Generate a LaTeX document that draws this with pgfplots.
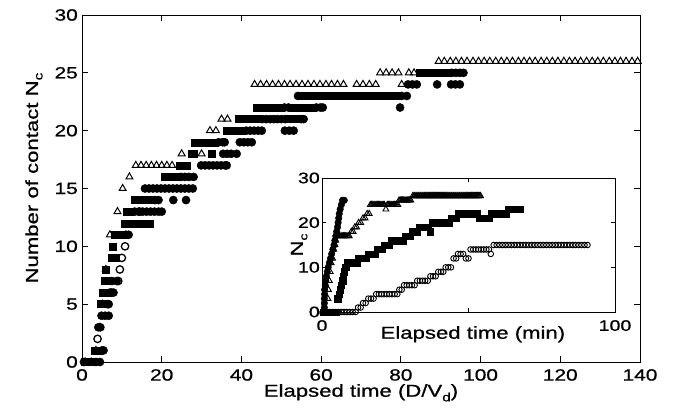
\documentclass[border=0pt]{standalone}
\usepackage{fontspec}
\setmainfont{Liberation Sans}[FakeStretch=1.28, FakeBold=0.8]
\usepackage{pgfplots}
\pgfplotsset{compat=1.18}

\newcommand\mainfs{\fontsize{16.3}{19}\selectfont}
\newcommand\labfs{\fontsize{17.3}{20}\selectfont}
\newcommand\insetfs{\fontsize{15.3}{18}\selectfont}
\newcommand\sub[2][12]{\raisebox{-0.5ex}{\fontsize{#1}{#1}\selectfont #2}}

\pgfplotsset{
  matlab/.style={
    scale only axis, clip=false,
    axis line style={line width=0.9pt},
    every tick/.style={black, line width=0.9pt},
    tick align=inside,
    /pgf/number format/assume math mode=true,
  },
  tri/.style={only marks, black, mark=triangle, mark size=#1, mark options={line width=1pt, fill=none}},
  sq/.style={only marks, black, mark=square*, mark size=#1},
  dot/.style={only marks, black, mark=*, mark size=#1},
  ring/.style={only marks, black, mark=o, mark size=#1, mark options={line width=1.3pt, fill=none}},
}

\begin{document}
\begin{tikzpicture}
\path[use as bounding box] (-82pt,-53pt) rectangle (597pt,362pt);

% main plot: contacts against dimensionless time
\begin{axis}[matlab,
  at={(0pt,0pt)}, anchor=south west,
  width=558pt, height=347pt,
  xmin=0, xmax=140, ymin=0, ymax=30,
  xtick={0,20,...,140}, ytick={0,5,...,30},
  major tick length=6pt,
  tick label style={font=\mainfs},
  xticklabel style={inner sep=0pt, yshift=-7pt},
  yticklabel style={inner sep=0pt, xshift=-4pt},
  label style={font=\labfs},
  xlabel={Elapsed time (D/V\sub{d})},
  xlabel style={at={(axis description cs:0.5,0)}, anchor=north, inner sep=0pt, yshift=-22pt},
  ylabel={Number of contact N\sub{c}},
  ylabel style={at={(axis description cs:-0.086,0.53)}, anchor=center},
]
\addplot[tri=4pt] coordinates {
(0.8,0)(2.3,0)(3.5,1)(4.5,3)(5.2,5)(6.0,8)(7.0,11)(8.9,13)(10.2,15)(11.9,16)
(13.5,17)(14.8,17)(16.1,17)(17.4,17)(18.7,17)(20.0,17)(21.3,17)(22.6,17)
(25.0,18)(30.0,18)(32.1,20)(33.6,20)(35.0,21)(36.5,21)
(43.3,24)(44.8,24)(46.3,24)(47.8,24)(49.3,24)(50.8,24)(52.2,24)(53.7,24)
(55.2,24)(56.7,24)(58.2,24)(59.7,24)(61.2,24)(62.6,24)(64.1,24)(65.6,24)
(68.9,24)(70.5,24)(72.1,24)(73.7,24)(80.2,24)
(74.8,25)(76.3,25)(77.8,25)(79.4,25)(82.0,25)(83.3,25)
(89.5,26)(90.9,26)(92.4,26)(93.8,26)(95.2,26)(96.6,26)(98.1,26)(99.5,26)
(100.9,26)(102.3,26)(103.8,26)(105.2,26)(106.6,26)(108.0,26)(109.5,26)(110.9,26)
(112.3,26)(113.7,26)(115.2,26)(116.6,26)(118.0,26)(119.4,26)(120.9,26)(122.3,26)
(123.7,26)(125.1,26)(126.6,26)(128.0,26)(129.4,26)(130.8,26)(132.3,26)(133.7,26)
(135.1,26)(136.5,26)(138.0,26)(139.4,26)
};
\addplot[sq=3.5pt] coordinates {
(0.8,0)(1.7,0)(2.6,0)(3.2,1)(4.1,1)(4.6,5)(5.5,5)(5.3,6)(6.2,6)(5.7,7)(6.6,7)
(5.9,8)(7.4,9)(8.4,9)(7.8,10)(8.3,11)(9.3,11)(10.3,11)
(10.8,12)(11.9,12)(12.9,12)(14.0,12)(15.0,12)(16.1,12)(17.1,12)
(11.2,13)(12.2,13)
(13.3,14)(14.3,14)(15.3,14)(16.3,14)(17.3,14)
(20.8,16)(21.8,16)(22.8,16)(23.8,16)
(24.6,17)(25.6,17)(26.3,17)
(27.4,18)(28.0,18)(32.5,18)
(28.3,19)(29.3,19)(30.3,19)(31.3,19)(32.3,19)(33.3,19)
(36.2,20)(37.2,20)(38.2,20)(39.2,20)(40.2,20)
(39.2,21)(40.2,21)(41.2,21)(42.2,21)(43.2,21)(44.2,21)(52.0,21)(53.0,21)(54.0,21)
(43.8,22)(44.8,22)(45.8,22)(46.8,22)(47.8,22)(48.8,22)(49.8,22)
(52.8,22)(53.8,22)(54.8,22)(55.8,22)(56.8,22)(57.8,22)
(55.2,23)(56.2,23)(57.2,23)(58.2,23)(59.2,23)(60.2,23)(61.2,23)(62.2,23)(63.2,23)
(64.2,23)(65.2,23)(66.2,23)(67.2,23)(68.2,23)(69.2,23)(70.2,23)(71.2,23)(72.2,23)
(73.2,23)(74.2,23)(75.2,23)(76.2,23)(77.2,23)(78.2,23)(79.2,23)
(84.8,25)(85.8,25)(86.8,25)(87.8,25)(88.8,25)(89.8,25)(90.8,25)(91.8,25)
};
\addplot[dot=4.1pt] coordinates {
(3.5,0)(4.5,0)(5.0,1)(5.4,1)(4.1,3)(4.6,3)(4.9,4)(5.8,4)(6.7,4)(6.4,5)(6.7,5)
(7.0,6)(7.9,6)(7.5,7)(8.7,7)(11.0,11)(11.7,11)
(13.2,13)(14.2,13)(15.2,13)(16.2,13)(17.2,13)(18.2,13)(19.2,13)(20.0,13)
(18.3,14)(19.2,14)(22.9,14)(26.1,14)
(15.8,15)(16.8,15)(17.8,15)(18.8,15)(19.8,15)(20.8,15)(21.8,15)(22.8,15)
(23.8,15)(24.8,15)(25.8,15)(26.8,15)(27.8,15)
(24.8,16)(25.8,16)(26.8,16)(28.0,16)
(29.9,17)(30.9,17)(31.9,17)(32.9,17)(33.9,17)(34.9,17)(35.9,17)(36.3,17)
(35.4,18)(36.4,18)(37.4,18)(38.8,18)
(34.3,19)(35.3,19)(35.8,19)(39.6,19)(40.6,19)(41.6,19)(42.6,19)
(41.2,20)(42.2,20)(43.2,20)(44.2,20)(45.1,20)(50.9,20)(52.0,20)(53.1,20)
(45.2,21)(46.2,21)(47.2,21)(48.1,21)(49.0,21)(50.0,21)(51.0,21)(55.0,21)(55.6,21)
(50.8,22)(51.8,22)(58.8,22)(59.8,22)(60.4,22)(79.8,22)
(54.2,23)(80.2,23)(81.5,23)
(81.8,24)(82.9,24)(84.0,24)(89.1,24)(92.6,24)(93.7,24)(94.8,24)
(92.8,25)(93.8,25)(94.8,25)(95.7,25)
};
\addplot[ring=3.7pt] coordinates {
(0.5,0)(3.9,2)(7.4,6)(9.1,7)(9.5,8)(10.0,9)(10.8,10)(14.5,13)
};
\end{axis}

% inset: contacts against time in minutes
\begin{axis}[matlab,
  at={(240pt,50pt)}, anchor=south west,
  width=293pt, height=134pt,
  axis background/.style={fill=white},
  xmin=0, xmax=100, ymin=0, ymax=30,
  xtick={0,50,100}, xticklabels={0,,100},
  ytick={0,10,20,30},
  major tick length=4pt,
  tick label style={font=\insetfs},
  xticklabel style={inner sep=0pt, yshift=-8pt},
  yticklabel style={inner sep=0pt, xshift=-2pt},
  label style={font=\labfs},
  xlabel={Elapsed time (min)},
  xlabel style={at={(axis description cs:0.515,0)}, anchor=north, inner sep=0pt, yshift=-14pt},
  ylabel={N\sub[11]{c}},
  ylabel style={at={(axis description cs:-0.078,0.5)}, anchor=center},
]
\addplot[tri=3.4pt, mark options={line width=0.9pt}] coordinates {
(0.3,0)(0.9,0)(1.5,0)(2.0,3)(2.2,5)(2.5,7)(2.8,9)(3.1,11)(3.6,12)(4.0,14)(4.4,15)(4.7,16)
(4.9,17)(5.3,17)(5.7,17)(6.1,17)(6.5,17)(6.9,17)(7.3,17)(7.7,17)(8.1,17)(8.5,17)(8.9,17)(9.3,17)
(10.0,18)(10.6,18)(11.2,19)(11.8,19)(12.5,20)(13.2,20)(14.0,21)(14.7,21)(15.4,22)(16.1,22)
(16.5,24)(16.9,24)(17.3,24)(17.7,24)(18.1,24)(18.5,24)(18.9,24)(19.3,24)(19.7,24)
(20.1,24)(20.5,24)(20.9,24)(21.3,24)(21.8,23)(22.3,24)(22.7,24)(23.1,24)(23.5,24)
(23.9,24)(24.3,24)(24.7,24)(25.1,24)(25.5,24)(25.9,24)
(26.3,25)(26.7,25)(27.1,25)(27.5,25)(27.9,25)(28.3,25)(28.7,25)(29.1,25)(29.5,25)
(29.9,25)(30.3,25)
(31.0,26)(31.4,26)(31.7,26)(32.1,26)(32.4,26)(32.8,26)(33.1,26)(33.5,26)(33.8,26)
(34.2,26)(34.5,26)(34.9,26)(35.2,26)(35.6,26)(35.9,26)(36.3,26)(36.6,26)(37.0,26)
(37.3,26)(37.7,26)(38.0,26)(38.4,26)(38.7,26)(39.1,26)(39.4,26)(39.8,26)(40.1,26)
(40.5,26)(40.8,26)(41.2,26)(41.5,26)(41.9,26)(42.2,26)(42.6,26)(42.9,26)(43.3,26)
(43.6,26)(44.0,26)(44.3,26)(44.7,26)(45.0,26)(45.4,26)(45.7,26)(46.1,26)(46.4,26)
(46.8,26)(47.1,26)(47.5,26)(47.8,26)(48.2,26)(48.5,26)(48.9,26)(49.2,26)(49.6,26)
(49.9,26)(50.3,26)(50.6,26)(51.0,26)(51.3,26)(51.7,26)(52.0,26)(52.4,26)(52.7,26)
(53.1,26)(53.4,26)(53.8,26)(54.1,26)
};
\addplot[sq=3.2pt] coordinates {
(0.5,0)(1.2,0)(1.9,0)(2.6,0)(3.3,0)(4.0,0)(4.7,0)
(5.3,3)(5.8,4)(6.2,5)(6.6,6)(7.0,7)(7.3,8)(7.6,9)(8.1,10)(8.7,11)
(9.4,11)(10.2,11)(11.0,11)(11.8,11)(12.5,12)(13.3,12)(14.1,12)(14.9,12)
(15.7,13)(16.5,13)(17.3,13)(18.1,13)(18.9,14)(19.7,14)(20.5,14)
(21.3,15)(22.1,15)(22.9,15)(23.7,16)(24.5,16)(25.3,16)(26.1,16)(26.9,16)(27.6,16)
(28.4,17)(29.2,17)(30.0,17)(30.8,18)(31.6,18)(32.3,18)
(33.1,19)(34.1,19)(35.1,19)(36.1,19)(37.0,18)
(37.8,20)(38.6,20)(39.4,20)(40.2,20)(41.0,20)(41.8,20)(42.6,20)(43.4,20)
(44.2,21)(45.0,21)(45.8,21)
(46.6,22)(47.4,22)(48.2,22)(49.0,22)(49.8,22)(50.6,22)(51.4,22)(52.2,22)(53.0,22)
(53.8,21)(55.5,21)(56.3,21)(57.1,21)
(57.9,22)(58.7,22)(59.5,22)(60.3,22)(61.1,22)(61.9,22)(62.7,22)
(63.5,23)(64.3,23)(65.1,23)(65.9,23)(66.7,23)(67.5,23)
};
\addplot[dot=3.3pt] coordinates {
(0.3,0)(0.8,0)(1.3,0)(0.8,1)(0.8,2)(0.8,3)(0.9,4)(0.9,5)(1.1,6)(1.3,7)(1.5,8)
(1.8,9)(2.1,10)(2.5,11)(2.9,12)(3.3,13)(3.7,14)(4.1,15)(4.4,16)(4.7,17)(5.0,18)
(5.3,19)(5.5,20)(5.7,21)(5.9,22)(6.2,23)(6.6,24)(7.0,25)(7.3,25)(7.6,25)
};
\addplot[ring=2.8pt, mark options={line width=0.9pt}] coordinates {
(0.5,0)(1.5,0)(2.5,0)(3.5,0)(4.5,0)(5.5,0)(6.5,0)(7.5,0)(8.5,0)(9.5,0)(10.5,0)(11.5,0)
(12.3,1)(13.2,1)(14.0,2)(14.9,2)(15.8,3)(16.7,3)(17.6,3)
(18.5,4)(19.4,4)(20.3,4)(21.2,4)(22.1,4)(23.0,4)(23.9,4)(24.8,4)(25.7,4)
(26.4,5)(27.2,5)(28.0,6)(28.9,6)(29.8,6)(30.7,6)(31.6,6)
(32.5,7)(33.4,7)(34.3,7)(35.2,7)(36.1,7)(37.0,8)(37.9,8)(38.8,8)
(39.7,9)(40.6,9)(41.4,9)(42.2,10)(43.1,10)(44.0,10)
(44.9,12)(45.8,12)(46.4,13)(47.3,13)(48.2,13)(49.1,12)(50.0,12)
(50.7,14)(51.6,14)(52.5,14)(53.4,14)(54.3,14)(55.2,14)(56.1,14)(57.0,14)(57.6,13)
(58.6,15)(59.6,15)(60.6,15)(61.6,15)(62.6,15)(63.6,15)(64.6,15)(65.6,15)(66.6,15)
(67.6,15)(68.6,15)(69.6,15)(70.6,15)(71.6,15)(72.6,15)(73.6,15)(74.6,15)(75.6,15)
(76.6,15)(77.6,15)(78.6,15)(79.6,15)(80.6,15)(81.6,15)(82.6,15)(83.6,15)(84.6,15)
(85.6,15)(86.6,15)(87.6,15)(88.6,15)(89.6,15)(90.6,15)
};
\end{axis}
\end{tikzpicture}
\end{document}
